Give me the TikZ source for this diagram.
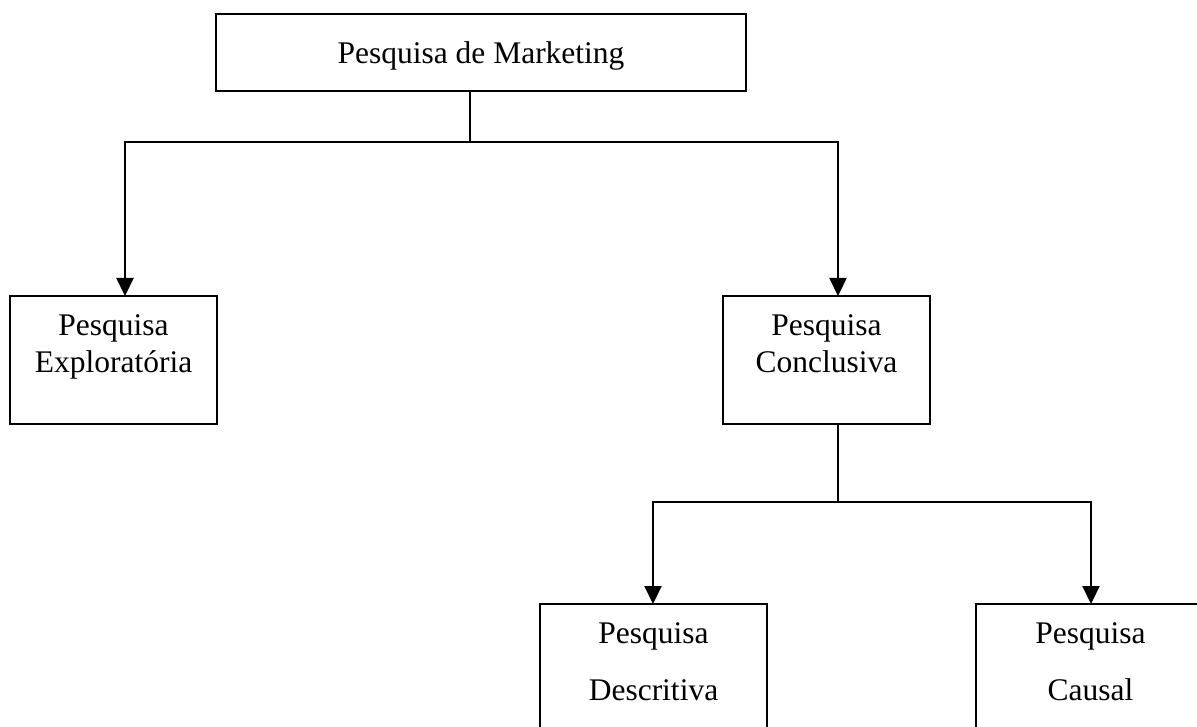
\documentclass[tikz,border=0pt]{standalone}
\usepackage{fontspec}
\setmainfont{Liberation Serif}
\usetikzlibrary{arrows.meta}
\begin{document}
\begin{tikzpicture}[x=1pt,y=-1pt,
  box/.style={draw, line width=2.2pt, inner sep=0pt, rectangle},
  lbl/.style={anchor=base, inner sep=0pt, font=\fontsize{31.5}{36}\selectfont},
  conn/.style={line width=2.2pt},
  arr/.style={line width=2.2pt, -{Triangle[length=18pt,width=17pt]}}]
\useasboundingbox (0,0) rectangle (1197,727);
\clip (0,0) rectangle (1197,727);
\fill[white] (0,0) rectangle (1197,727);
% boxes
\node[box, minimum width=530pt, minimum height=77pt] (top) at (481,52.2) {};
\node[box, minimum width=207pt, minimum height=128pt] (expl) at (113.5,360) {};
\node[box, minimum width=207pt, minimum height=128pt] (concl) at (826.5,360) {};
\node[box, minimum width=227pt, minimum height=156pt] (descr) at (653.5,682) {};
\node[box, minimum width=229pt, minimum height=156pt] (caus) at (1090.5,682) {};
% texts
\node[lbl] (t1) at (481,64) {Pesquisa de Marketing};
\node[lbl] (t2a) at (113.5,335) {Pesquisa};
\node[lbl] (t2b) at (113.5,373) {Exploratória};
\node[lbl] (t3a) at (826.5,335) {Pesquisa};
\node[lbl] (t3b) at (826.5,373) {Conclusiva};
\node[lbl] (t4a) at (653.5,643) {Pesquisa};
\node[lbl] (t4b) at (653.5,700) {Descritiva};
\node[lbl] (t5a) at (1090.5,643) {Pesquisa};
\node[lbl] (t5b) at (1090.5,700) {Causal};
% connector points
\coordinate (s1) at (470,90.7);
\coordinate (j1) at (470,141.7);
\coordinate (e1) at (125,296);
\coordinate (e2) at (838,296);
\coordinate (s2) at (838,424.7);
\coordinate (j2) at (838,501.7);
\coordinate (e3) at (653,604);
\coordinate (e4) at (1091,604);
% connectors
\draw[conn] (s1) -- (j1);
\draw[arr] (j1) -| (e1);
\draw[arr] (j1) -| (e2);
\draw[conn] (s2) -- (j2);
\draw[arr] (j2) -| (e3);
\draw[arr] (j2) -| (e4);
\end{tikzpicture}
\end{document}
